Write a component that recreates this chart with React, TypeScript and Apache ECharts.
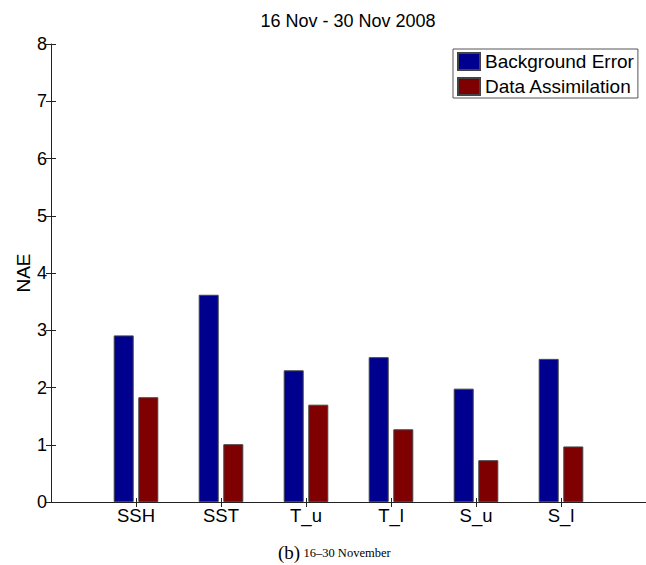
import React, { useEffect, useRef } from "react";
import * as echarts from "echarts";

// Normalised absolute error per variable, 16–30 Nov 2008
const categories = ["SSH", "SST", "T_u", "T_l", "S_u", "S_l"];
const backgroundError = [2.91, 3.62, 2.3, 2.53, 1.98, 2.5];
const dataAssimilation = [1.83, 1.01, 1.7, 1.27, 0.73, 0.97];
const yTicks = [0, 1, 2, 3, 4, 5, 6, 7, 8];

const FONT = "'Liberation Sans', Arial, Helvetica, sans-serif";
const SERIF = "'Liberation Serif', 'Times New Roman', serif";
const BLUE = "#00008f";
const RED = "#7f0000";

const positions = categories.map((_, i) => i + 1);

export default function App() {
  const ref = useRef<HTMLDivElement>(null);

  useEffect(() => {
    if (!ref.current) return;
    const chart = echarts.init(ref.current, undefined, { renderer: "svg" });

    const axisLine = { show: true, lineStyle: { color: "#222", width: 1 } };

    chart.setOption({
      animation: false,
      backgroundColor: "#fff",
      title: {
        text: "16 Nov - 30 Nov 2008",
        left: 348,
        top: 12,
        padding: 0,
        textAlign: "center",
        textStyle: { fontFamily: FONT, fontSize: 18, fontWeight: "normal", color: "#000" },
      },
      legend: {
        orient: "vertical",
        left: 453,
        top: 49,
        padding: [3, 4, 2, 4],
        itemWidth: 22,
        itemHeight: 17,
        itemGap: 6,
        borderColor: "#555",
        borderWidth: 1,
        backgroundColor: "#fff",
        icon: "rect",
        textStyle: { fontFamily: FONT, fontSize: 19, color: "#000" },
        data: ["Background Error", "Data Assimilation"],
      },
      grid: { left: 51, right: 0, top: 44, bottom: 63, containLabel: false },
      xAxis: [
        {
          type: "value",
          position: "bottom",
          min: 0,
          max: 7,
          axisLine,
          splitLine: { show: false },
          axisTick: {
            show: true,
            inside: true,
            length: 4,
            customValues: positions,
            lineStyle: { color: "#222" },
          },
          axisLabel: {
            show: true,
            customValues: positions,
            margin: 4,
            fontFamily: FONT,
            fontSize: 18.5,
            color: "#000",
            formatter: (v: number) => categories[Math.round(v) - 1] ?? "",
          },
        },
        {
          type: "value",
          position: "top",
          min: 0,
          max: 7,
          axisLine,
          splitLine: { show: false },
          axisTick: {
            show: true,
            inside: true,
            length: 5,
            customValues: positions,
            lineStyle: { color: "#222" },
          },
          axisLabel: { show: false },
        },
      ],
      yAxis: [
        {
          type: "value",
          position: "left",
          min: 0,
          max: 8,
          interval: 1,
          name: "NAE",
          nameLocation: "middle",
          nameGap: 18,
          nameMoveOverlap: false,
          nameTextStyle: { fontFamily: FONT, fontSize: 19, color: "#000" },
          axisLine,
          splitLine: { show: false },
          axisTick: { show: true, inside: true, length: 5, lineStyle: { color: "#222" } },
          axisLabel: {
            show: true,
            margin: 4,
            fontFamily: FONT,
            fontSize: 18,
            color: "#000",
            customValues: yTicks,
          },
        },
        {
          type: "value",
          position: "right",
          min: 0,
          max: 8,
          interval: 1,
          axisLine: { show: false },
          splitLine: { show: false },
          axisTick: { show: true, inside: true, length: 5, lineStyle: { color: "#222" } },
          axisLabel: { show: false },
        },
      ],
      series: [
        {
          name: "Background Error",
          type: "bar",
          xAxisIndex: 0,
          yAxisIndex: 0,
          barWidth: 20,
          barGap: "23%",
          itemStyle: { color: BLUE, borderColor: "#444", borderWidth: 1 },
          data: categories.map((_, i) => [positions[i], backgroundError[i]]),
        },
        {
          name: "Data Assimilation",
          type: "bar",
          xAxisIndex: 0,
          yAxisIndex: 0,
          barWidth: 20,
          barGap: "23%",
          itemStyle: { color: RED, borderColor: "#444", borderWidth: 1 },
          data: categories.map((_, i) => [positions[i], dataAssimilation[i]]),
        },
      ],
      graphic: [
        {
          type: "text",
          left: 278,
          top: 543,
          style: {
            text: "{a|(b)} {b|16–30 November}",
            rich: {
              a: { fontFamily: SERIF, fontSize: 19, fill: "#000" },
              b: { fontFamily: SERIF, fontSize: 12.5, fill: "#000" },
            },
          },
        },
      ],
    });

    return () => chart.dispose();
  }, []);

  return (
    <div
      ref={ref}
      style={{ position: "fixed", left: 0, top: 0, width: 646, height: 565, background: "#fff" }}
    />
  );
}
